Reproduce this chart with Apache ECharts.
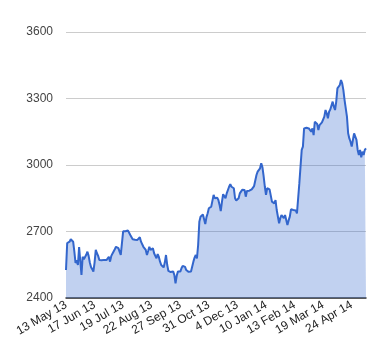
<!DOCTYPE html>
<html>
<head>
<meta charset="utf-8">
<script src="https://cdn.jsdelivr.net/npm/echarts@6/dist/echarts.min.js"></script>
<style>html,body{margin:0;padding:0;background:#fff}#c{width:380px;height:360px}</style>
</head>
<body>
<div id="c"></div>
<script>
// trading-day calendar: first day, number of days, market holidays
var startDate = [2013, 5, 13];
var holidays = ['2013-05-20','2013-08-26','2013-09-20','2013-12-25','2013-12-26','2014-01-01','2014-04-18','2014-04-21','2014-05-01'];
var monthNames = ['Jan','Feb','Mar','Apr','May','Jun','Jul','Aug','Sep','Oct','Nov','Dec'];

// daily closing values
var values = [
2526,2648,2640,2654,2665,2660,2654,2610,2558,2570,
2549,2630,2635,2504,2586,2575,2571,2595,2609,2590,
2560,2540,2530,2519,2560,2617,2602,2590,2571,2579,
2570,2564,2572,2575,2571,2580,2586,2564,2589,2600,
2609,2620,2631,2639,2625,2609,2595,2586,2701,2698,
2701,2710,2705,2701,2684,2676,2665,2668,2663,2665,
2662,2668,2674,2654,2645,2631,2625,2617,2594,2612,
2631,2617,2620,2624,2602,2590,2579,2598,2585,2564,
2549,2545,2538,2560,2594,2550,2522,2519,2517,2515,
2520,2504,2466,2500,2519,2522,2519,2534,2545,2552,
2540,2526,2520,2518,2516,2520,2522,2564,2582,2594,
2579,2639,2744,2767,2772,2777,2782,2734,2765,2782,
2805,2808,2812,2820,2865,2850,2855,2852,2842,2820,
2792,2834,2868,2860,2850,2872,2880,2902,2913,2902,
2898,2895,2850,2840,2834,2850,2872,2880,2888,2895,
2887,2857,2883,2880,2884,2887,2890,2898,2905,2913,
2955,2970,2978,2985,3008,2990,2950,2903,2865,2895,
2892,2890,2890,2835,2839,2827,2842,2797,2789,2737,
2760,2774,2768,2760,2774,2752,2729,2750,2767,2800,
2798,2797,2805,2795,2782,2788,2917,2925,3068,3083,
3165,3173,3168,3165,3165,3158,3150,3165,3135,3195,
3203,3185,3158,3180,3188,3192,3195,3218,3248,3233,
3211,3240,3250,3256,3286,3263,3248,3286,3346,3353,
3361,3383,3368,3338,3293,3286,3218,3143,3120,3105,
3083,3113,3143,3150,3113,3068,3045,3068,3035,3060,
3045,3068,3075
];

var yTicks = [2400, 2700, 3000, 3300, 3600];

// build category dates (weekdays minus holidays)
var categories = [];
(function () {
  var d = new Date(Date.UTC(startDate[0], startDate[1] - 1, startDate[2]));
  while (categories.length < values.length) {
    var wd = d.getUTCDay();
    var iso = d.toISOString().slice(0, 10);
    if (wd !== 0 && wd !== 6 && holidays.indexOf(iso) < 0) {
      categories.push(d.getUTCDate() + ' ' + monthNames[d.getUTCMonth()] + ' ' + String(d.getUTCFullYear()).slice(2));
    }
    d = new Date(d.getTime() + 86400000);
  }
})();

var chart = echarts.init(document.getElementById('c'), null, {renderer: 'canvas'});
chart.setOption({
  animation: false,
  backgroundColor: '#ffffff',
  textStyle: {fontFamily: 'Arial, "Liberation Sans", sans-serif'},
  grid: {left: 66, right: 14, top: 32, bottom: 62, containLabel: false},
  xAxis: {
    type: 'category',
    data: categories,
    boundaryGap: false,
    axisLine: {show: true, lineStyle: {color: '#333333', width: 1.5}},
    axisTick: {show: false},
    splitLine: {show: false},
    axisLabel: {
      interval: 23,
      rotate: 30,
      margin: 6,
      fontSize: 12,
      color: '#222222',
      fontFamily: 'Arial, "Liberation Sans", sans-serif'
    }
  },
  yAxis: {
    type: 'value',
    min: yTicks[0],
    max: yTicks[yTicks.length - 1],
    interval: 300,
    axisLine: {show: false},
    axisTick: {show: false},
    splitLine: {lineStyle: {color: '#cccccc', width: 1}},
    axisLabel: {
      fontSize: 12,
      color: '#444444',
      margin: 13,
      formatter: function (v) { return String(v); },
      fontFamily: 'Arial, "Liberation Sans", sans-serif'
    }
  },
  series: [{
    type: 'line',
    data: values,
    showSymbol: false,
    symbol: 'none',
    lineStyle: {color: '#3366cc', width: 2},
    areaStyle: {color: '#3366cc', opacity: 0.3},
    z: 3
  }]
});
</script>
</body>
</html>
